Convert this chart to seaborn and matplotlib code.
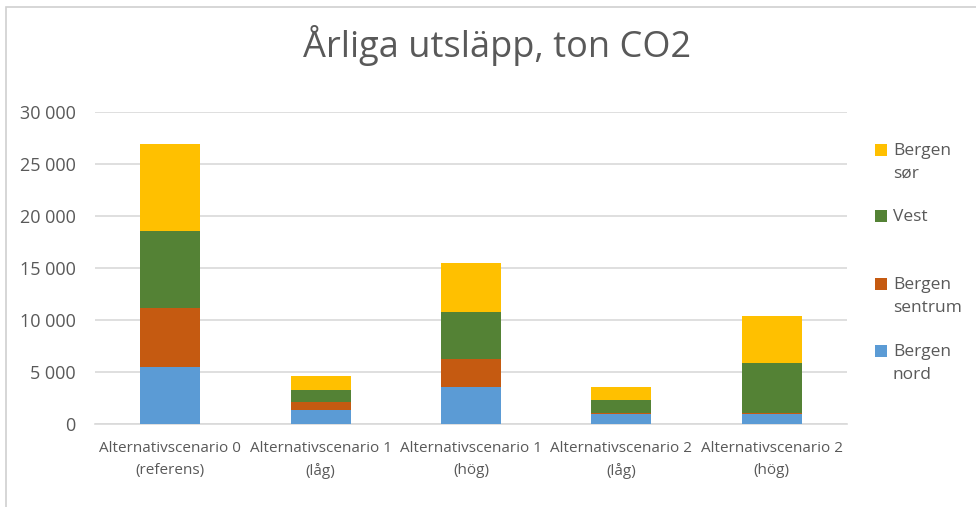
import numpy as np
import pandas as pd
import matplotlib
matplotlib.use("Agg")
import matplotlib.pyplot as plt
from matplotlib.patches import Rectangle
from matplotlib.ticker import FuncFormatter
import seaborn as sns

# -----------------------
# Data
# -----------------------
scenarios = [
    "Alternativscenario 0\n(referens)",
    "Alternativscenario 1\n(låg)",
    "Alternativscenario 1\n(hög)",
    "Alternativscenario 2\n(låg)",
    "Alternativscenario 2\n(hög)",
]
regions = ["Bergen nord", "Bergen sentrum", "Vest", "Bergen sør"]
bergen_nord = [5440, 1310, 3520, 1000, 1000]
bergen_sentrum = [5760, 770, 2720, 60, 60]
vest = [7320, 1210, 4570, 1270, 4820]
bergen_sor = [8400, 1280, 4670, 1250, 4480]

colors = ["#5B9BD5", "#C55A11", "#548235", "#FFC000"]
legend_labels = ["Bergen\nnord", "Bergen\nsentrum", "Vest", "Bergen\nsør"]

# -----------------------
# Style
# -----------------------
sns.set_theme(style="white")
plt.rcParams["font.family"] = ["Open Sans", "DejaVu Sans"]
text_col = "#595959"

fig = plt.figure(figsize=(9.76, 5.07), dpi=100)
ax = fig.add_axes([95 / 976, 1 - 424 / 507, 752 / 976, 312 / 507])

# stacked bars: draw cumulative totals from the top series down
series = [bergen_nord, bergen_sentrum, vest, bergen_sor]
cum = np.cumsum(np.array(series), axis=0)
for i in range(len(series) - 1, -1, -1):
    df = pd.DataFrame({"scenario": scenarios, "value": cum[i]})
    sns.barplot(data=df, x="scenario", y="value", color=colors[i],
                width=0.4, saturation=1, linewidth=0, ax=ax, zorder=3)

ax.set_ylim(0, 30000)
ax.set_yticks(range(0, 30001, 5000))
ax.yaxis.set_major_formatter(FuncFormatter(lambda v, p: f"{int(v):,}".replace(",", " ")))
ax.grid(axis="y", color="#D9D9D9", linewidth=1.2, zorder=0)
ax.set_axisbelow(True)
for s in ["top", "right", "left"]:
    ax.spines[s].set_visible(False)
ax.spines["bottom"].set_color("#D9D9D9")
ax.spines["bottom"].set_linewidth(1.2)
ax.set_xlabel("")
ax.set_ylabel("")
ax.tick_params(axis="y", length=0, pad=14, labelsize=13, labelcolor=text_col)
ax.tick_params(axis="x", length=0, pad=12, labelsize=11, labelcolor=text_col)
for t in ax.get_xticklabels():
    t.set_linespacing(1.65)

fig.text(497 / 976, 1 - 45 / 507, "Årliga utsläpp, ton CO2", ha="center", va="center",
         fontsize=26, color=text_col)

# legend (Excel style: marker aligned with first line)
leg_y = [351, 284, 216, 150]
for lab, col, y in zip(legend_labels, colors, leg_y):
    fig.add_artist(Rectangle((875 / 976, 1 - (y + 6) / 507), 12 / 976, 12 / 507,
                             transform=fig.transFigure, facecolor=col, edgecolor="none"))
    fig.text(893 / 976, 1 - (y - 7) / 507, lab, ha="left", va="top",
             fontsize=12.5, color=text_col, linespacing=1.55)

# chart frame
fig.add_artist(Rectangle((6 / 976, -0.05), 1.1, 1 - 7 / 507 + 0.05, transform=fig.transFigure,
                         facecolor="none", edgecolor="#D0D0D0", linewidth=1.2))

fig.savefig("out.png", dpi=100)
